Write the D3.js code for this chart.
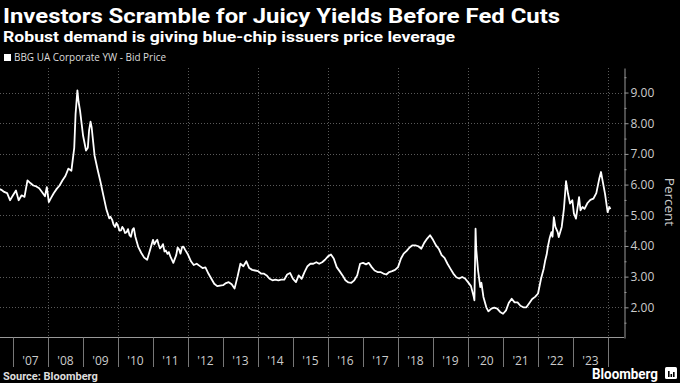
<!DOCTYPE html>
<html>
<head>
<meta charset="utf-8">
<script src="https://cdn.jsdelivr.net/npm/d3@7"></script>
<style>
	body { margin: 0; background: #000; }
	svg { display: block; }
</style>
</head>
<body>
<svg id="chart" width="680" height="383"></svg>
<script>

var title = 'Investors Scramble for Juicy Yields Before Fed Cuts'
var subtitle = 'Robust demand is giving blue-chip issuers price leverage'
var legendLabel = 'BBG UA Corporate YW - Bid Price'
var sourceLabel = 'Source: Bloomberg'
var axisLabel = 'Percent'

var years = [2007, 2008, 2009, 2010, 2011, 2012, 2013, 2014, 2015, 2016, 2017, 2018, 2019, 2020, 2021, 2022, 2023]
var yTicks = [2, 3, 4, 5, 6, 7, 8, 9]
var yMinor = [1.5, 2.5, 3.5, 4.5, 5.5, 6.5, 7.5, 8.5, 9.5]

var dates = [
	'2006-08-18', '2006-09-01', '2006-10-01', '2006-11-01', '2006-12-01',
	'2007-01-01', '2007-02-01', '2007-03-01', '2007-04-01', '2007-05-01', '2007-06-01', '2007-07-01', '2007-08-01', '2007-09-01', '2007-10-01', '2007-11-01', '2007-12-01', '2007-12-20',
	'2008-01-10', '2008-02-01', '2008-03-01', '2008-04-01', '2008-05-01', '2008-06-01', '2008-07-01', '2008-08-01', '2008-09-01', '2008-10-01', '2008-10-15', '2008-11-03', '2008-11-15', '2008-12-01',
	'2009-01-01', '2009-02-01', '2009-02-20', '2009-03-05', '2009-03-20', '2009-04-01', '2009-05-01', '2009-06-01', '2009-07-01', '2009-08-01', '2009-09-01', '2009-10-01', '2009-10-15', '2009-11-01', '2009-11-15', '2009-12-01', '2009-12-15',
	'2010-01-01', '2010-01-15', '2010-02-01', '2010-02-15', '2010-03-01', '2010-03-15', '2010-04-01', '2010-04-15', '2010-05-01', '2010-05-15', '2010-06-01', '2010-06-15', '2010-07-01', '2010-08-01', '2010-09-01', '2010-10-01', '2010-11-01', '2010-12-01',
	'2011-01-01', '2011-01-15', '2011-02-01', '2011-02-15', '2011-03-01', '2011-03-15', '2011-04-01', '2011-04-15', '2011-05-01', '2011-05-15', '2011-06-01', '2011-06-15', '2011-07-01', '2011-08-01', '2011-09-01', '2011-09-15', '2011-10-01', '2011-10-15', '2011-11-01', '2011-11-15', '2011-12-01',
	'2012-01-01', '2012-02-01', '2012-03-01', '2012-04-01', '2012-05-01', '2012-06-01', '2012-07-01', '2012-08-01', '2012-09-01', '2012-10-01', '2012-11-01', '2012-12-01',
	'2013-01-01', '2013-02-01', '2013-03-01', '2013-04-01', '2013-05-01', '2013-06-01', '2013-07-01', '2013-08-01', '2013-09-01', '2013-10-01', '2013-11-01', '2013-12-01',
	'2014-01-01', '2014-02-01', '2014-03-01', '2014-04-01', '2014-05-01', '2014-06-01', '2014-07-01', '2014-08-01', '2014-09-01', '2014-10-01', '2014-11-01', '2014-12-01',
	'2015-01-01', '2015-02-01', '2015-03-01', '2015-04-01', '2015-05-01', '2015-06-01', '2015-07-01', '2015-08-01', '2015-09-01', '2015-10-01', '2015-11-01', '2015-12-01',
	'2016-01-01', '2016-02-01', '2016-03-01', '2016-04-01', '2016-05-01', '2016-06-01', '2016-07-01', '2016-08-01', '2016-09-01', '2016-10-01', '2016-11-01', '2016-12-01',
	'2017-01-01', '2017-02-01', '2017-03-01', '2017-04-01', '2017-05-01', '2017-06-01', '2017-07-01', '2017-08-01', '2017-09-01', '2017-10-01', '2017-11-01', '2017-12-01',
	'2018-01-01', '2018-02-01', '2018-03-01', '2018-04-01', '2018-05-01', '2018-06-01', '2018-07-01', '2018-08-01', '2018-09-01', '2018-10-01', '2018-11-01', '2018-12-01',
	'2019-01-01', '2019-02-01', '2019-03-01', '2019-04-01', '2019-05-01', '2019-06-01', '2019-07-01', '2019-08-01', '2019-09-01', '2019-10-01', '2019-11-01', '2019-12-01',
	'2020-01-01', '2020-02-01', '2020-03-01', '2020-03-08', '2020-03-20', '2020-03-27', '2020-04-15', '2020-05-08', '2020-05-20', '2020-06-10', '2020-07-10', '2020-08-01', '2020-09-01', '2020-10-01', '2020-11-01', '2020-12-01',
	'2021-01-01', '2021-02-01', '2021-03-01', '2021-04-01', '2021-05-01', '2021-06-01', '2021-07-01', '2021-08-01', '2021-09-01', '2021-10-01', '2021-11-01', '2021-12-01',
	'2022-01-01', '2022-02-01', '2022-03-01', '2022-03-15', '2022-04-01', '2022-04-15', '2022-05-01', '2022-05-20', '2022-06-01', '2022-06-15', '2022-07-01', '2022-07-25', '2022-08-05', '2022-09-05', '2022-09-28', '2022-10-20', '2022-11-10', '2022-12-01', '2022-12-25',
	'2023-01-10', '2023-02-01', '2023-03-05', '2023-03-20', '2023-04-10', '2023-05-01', '2023-06-01', '2023-07-01', '2023-08-01', '2023-09-01', '2023-10-01', '2023-10-20', '2023-11-01', '2023-12-01', '2023-12-28',
	'2024-01-15', '2024-01-26'
]

var values = [
	5.85, 5.83, 5.76, 5.72, 5.49,
	5.65, 5.81, 5.49, 5.65, 5.60, 6.14, 6.05, 5.97, 5.94, 5.88, 5.75, 5.62, 5.92,
	5.43, 5.56, 5.72, 5.86, 5.97, 6.14, 6.28, 6.52, 6.45, 7.20, 8.30, 9.07, 8.70, 8.40,
	7.60, 7.11, 7.20, 7.77, 8.05, 7.86, 6.95, 6.50, 6.10, 5.65, 5.20, 4.90, 4.95, 4.85, 4.70, 4.62, 4.75,
	4.65, 4.50, 4.51, 4.62, 4.55, 4.42, 4.45, 4.55, 4.35, 4.30, 4.53, 4.58, 4.30, 3.96, 3.77, 3.62, 3.55, 3.87,
	4.20, 4.05, 4.15, 4.20, 4.04, 3.92, 3.98, 4.06, 3.82, 3.85, 3.74, 3.80, 3.66, 3.45, 3.71, 3.95, 3.88, 3.75, 3.97, 3.98, 3.88,
	3.72, 3.50, 3.38, 3.42, 3.35, 3.28, 3.30, 3.10, 2.93, 2.77, 2.69, 2.71,
	2.72, 2.79, 2.82, 2.75, 2.61, 3.00, 3.42, 3.34, 3.50, 3.28, 3.22, 3.20,
	3.18, 3.10, 3.10, 3.04, 2.93, 2.88, 2.90, 2.88, 2.90, 2.90, 3.07, 3.12,
	2.93, 2.82, 3.04, 2.93, 3.15, 3.34, 3.42, 3.42, 3.47, 3.42, 3.47, 3.55,
	3.66, 3.72, 3.59, 3.31, 3.18, 3.04, 2.88, 2.81, 2.80, 2.88, 3.04, 3.42,
	3.45, 3.40, 3.45, 3.31, 3.20, 3.15, 3.15, 3.10, 3.07, 3.15, 3.18, 3.22,
	3.31, 3.59, 3.75, 3.84, 3.95, 4.02, 4.02, 3.99, 3.91, 4.10, 4.24, 4.35,
	4.20, 4.02, 3.91, 3.70, 3.61, 3.42, 3.26, 3.10, 2.98, 2.94, 2.99, 2.94,
	2.82, 2.69, 2.34, 2.23, 4.56, 3.90, 3.20, 2.66, 2.80, 2.34, 2.00, 1.87, 1.96, 1.99, 1.96, 1.85,
	1.79, 1.90, 2.14, 2.28, 2.16, 2.16, 2.05, 2.00, 2.00, 2.13, 2.27, 2.34,
	2.45, 2.93, 3.26, 3.50, 3.72, 4.00, 4.24, 4.45, 4.30, 4.94, 4.62, 4.45, 4.29, 4.62, 5.21, 6.11, 5.70, 5.38, 5.49,
	5.06, 4.89, 5.59, 5.16, 5.27, 5.21, 5.40, 5.50, 5.54, 5.72, 6.18, 6.41, 6.20, 5.70, 5.10,
	5.27, 5.20
]

var w = 680
var h = 383

var parse = d3.timeParse('%Y-%m-%d')
var data = dates.map((d, i) => ({ date: parse(d), value: values[i] }))

var x = d3.scaleTime()
	.domain([new Date(2007, 0, 1), new Date(2024, 0, 1)])
	.range([13, 608])

var y = d3.scaleLinear()
	.domain([1, 9.8])
	.range([338, 68])

var plotRight = 624
var axisY = 337.5

var svg = d3.select('#chart')

svg.append('rect')
	.attr('width', w)
	.attr('height', h)
	.attr('fill', '#000')

// titles
svg.append('text')
	.attr('x', 3)
	.attr('y', 23)
	.attr('textLength', 557)
	.attr('lengthAdjust', 'spacingAndGlyphs')
	.style('font-family', 'Roboto, sans-serif')
	.style('font-weight', 'bold')
	.style('font-size', '21px')
	.style('fill', '#fff')
	.text(title)

svg.append('text')
	.attr('x', 3)
	.attr('y', 42)
	.attr('textLength', 452)
	.attr('lengthAdjust', 'spacingAndGlyphs')
	.style('font-family', 'Roboto, sans-serif')
	.style('font-weight', 'bold')
	.style('font-size', '15.5px')
	.style('fill', '#fff')
	.text(subtitle)

svg.append('rect')
	.attr('x', 4)
	.attr('y', 54)
	.attr('width', 7)
	.attr('height', 7)
	.attr('fill', '#fff')

svg.append('text')
	.attr('x', 14)
	.attr('y', 61)
	.attr('textLength', 152)
	.attr('lengthAdjust', 'spacingAndGlyphs')
	.style('font-family', '"Open Sans", sans-serif')
	.style('font-size', '10.5px')
	.style('fill', '#ddd')
	.text(legendLabel)

// grid
svg.append('g')
	.selectAll('line')
	.data(yTicks)
	.enter().append('line')
	.attr('x1', 0)
	.attr('x2', plotRight)
	.attr('y1', d => Math.round(y(d)) + 0.5)
	.attr('y2', d => Math.round(y(d)) + 0.5)
	.attr('stroke', '#5a5a5a')
	.attr('stroke-dasharray', '1,2')

svg.append('g')
	.selectAll('line')
	.data(years.filter(d => d % 2 == 0).concat([2024]))
	.enter().append('line')
	.attr('x1', d => Math.round(x(new Date(d, 0, 1))) + 0.5)
	.attr('x2', d => Math.round(x(new Date(d, 0, 1))) + 0.5)
	.attr('y1', y(9.8))
	.attr('y2', axisY)
	.attr('stroke', '#5a5a5a')
	.attr('stroke-dasharray', '1,2')

// x axis
svg.append('line')
	.attr('x1', 0)
	.attr('x2', plotRight)
	.attr('y1', axisY)
	.attr('y2', axisY)
	.attr('stroke', '#999')

svg.append('g')
	.selectAll('line')
	.data(years.concat([2024]))
	.enter().append('line')
	.attr('x1', d => Math.round(x(new Date(d, 0, 1))) + 0.5)
	.attr('x2', d => Math.round(x(new Date(d, 0, 1))) + 0.5)
	.attr('y1', axisY)
	.attr('y2', 367)
	.attr('stroke', '#777')

svg.append('g')
	.selectAll('text')
	.data(years)
	.enter().append('text')
	.attr('x', d => (x(new Date(d, 0, 1)) + x(new Date(d + 1, 0, 1))) / 2)
	.attr('y', 365)
	.attr('text-anchor', 'middle')
	.style('font-family', '"Open Sans", sans-serif')
	.style('font-size', '12px')
	.style('fill', '#ccc')
	.text(d => "'" + String(d).slice(2))

// y axis
var yAxis = d3.axisRight(y)
	.tickValues(yTicks)
	.tickFormat(d3.format('.2f'))
	.tickSize(4)
	.tickSizeOuter(0)
	.tickPadding(2)

var ya = svg.append('g')
	.attr('transform', 'translate(' + (plotRight + 0.5) + ',0)')
	.call(yAxis)

ya.select('.domain').attr('stroke', '#999')
ya.selectAll('.tick line').attr('stroke', '#999')
ya.selectAll('.tick text')
	.style('font-family', '"Open Sans", sans-serif')
	.style('font-size', '12px')
	.style('fill', '#ccc')

svg.append('g')
	.attr('transform', 'translate(' + (plotRight + 0.5) + ',0)')
	.call(d3.axisRight(y).tickValues(yMinor).tickSize(2).tickSizeOuter(0).tickFormat(''))
	.call(g => g.select('.domain').remove())
	.selectAll('.tick line').attr('stroke', '#999')

svg.append('text')
	.attr('transform', 'translate(665,202) rotate(90)')
	.attr('text-anchor', 'middle')
	.style('font-family', '"Open Sans", sans-serif')
	.style('font-size', '13.5px')
	.style('fill', '#ccc')
	.text(axisLabel)

// series
var line = d3.line()
	.x(d => x(d.date))
	.y(d => y(d.value))

svg.append('path')
	.datum(data)
	.attr('d', line)
	.attr('fill', 'none')
	.attr('stroke', '#fff')
	.attr('stroke-width', 1.8)
	.attr('stroke-linejoin', 'round')

// footer
svg.append('text')
	.attr('x', 3)
	.attr('y', 380)
	.style('font-family', 'Roboto, sans-serif')
	.style('font-weight', 'bold')
	.style('font-size', '11px')
	.style('fill', '#ddd')
	.text(sourceLabel)

svg.append('text')
	.attr('x', 592)
	.attr('y', 379)
	.attr('textLength', 66)
	.attr('lengthAdjust', 'spacingAndGlyphs')
	.style('font-family', 'Roboto, sans-serif')
	.style('font-weight', 'bold')
	.style('font-size', '15px')
	.style('fill', '#fff')
	.text('Bloomberg')

var logo = svg.append('g')
	.attr('transform', 'translate(665,367)')

logo.append('rect')
	.attr('width', 12)
	.attr('height', 12)
	.attr('rx', 1.5)
	.attr('fill', '#fff')

logo.selectAll('.bar')
	.data([[3, 6], [5.5, 3], [8, 5]])
	.enter().append('rect')
	.attr('x', d => d[0])
	.attr('y', d => 10 - d[1])
	.attr('width', 1.6)
	.attr('height', d => d[1])
	.attr('fill', '#000')

</script>
</body>
</html>
